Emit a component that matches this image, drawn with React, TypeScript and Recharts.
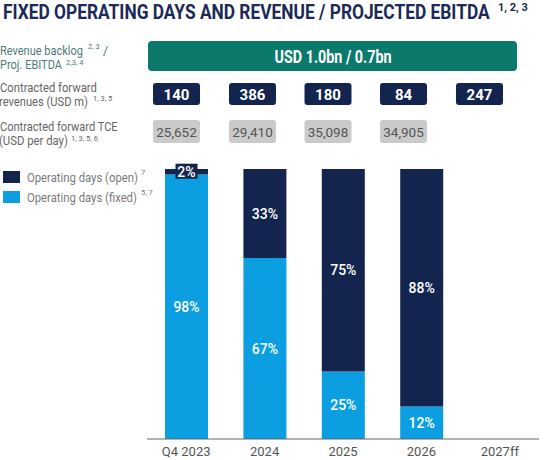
import React from 'react';
import { BarChart, Bar, XAxis, YAxis, LabelList } from 'recharts';

const categories = ['Q4 2023', '2024', '2025', '2026', '2027ff'];
const fixedDays = [98, 67, 25, 12, null];
const openDays = [2, 33, 75, 88, null];
const forwardRevenues = ['140', '386', '180', '84', '247'];
const forwardTce = ['25,652', '29,410', '35,098', '34,905'];

const NAVY = '#13254f';
const BLUE = '#0b9fe1';
const TEAL = '#0c7a6a';
const FONT = 'Roboto, "Noto Sans", sans-serif';

const chartData = categories.map((name, i) => ({
  name,
  fixed: fixedDays[i],
  open: openDays[i],
}));

// header boxes sit slightly left of the bar columns, like in the slide
const boxCenters = [176.5, 252.5, 328, 403.5, 479.5];

let ctx: CanvasRenderingContext2D | null = null;
const measure = (s: string, size: number, weight: number) => {
  if (!ctx) ctx = document.createElement('canvas').getContext('2d');
  if (!ctx) return s.length * size * 0.55;
  ctx.font = `${weight} ${size}px Roboto`;
  return ctx.measureText(s).width;
};

// text squeezed horizontally to a given width (the slide uses a condensed face)
const Sq = ({ x, y, w, size, weight = 400, fill, anchor = 'start', children }: any) => {
  const natural = measure(children, size, weight);
  const s = Math.min(1, w / natural);
  return (
    <text
      transform={`translate(${x},${y}) scale(${s},1)`}
      textAnchor={anchor}
      fill={fill}
      fontSize={size}
      fontWeight={weight}
      fontFamily={FONT}
    >
      {children}
    </text>
  );
};

const Sup = ({ x, y, fill, size = 7.5, children }: any) => (
  <text x={x} y={y} fill={fill} fontSize={size} fontFamily={FONT}>{children}</text>
);

const PercentLabel = (props: any) => {
  const { x, y, width, height, value } = props;
  if (value == null) return null;
  const cx = x + width / 2;
  const cy = y + height / 2;
  if (height < 14) {
    return (
      <g>
        <rect x={cx - 11} y={cy - 8} width={22} height={15} fill={NAVY} />
        <text x={cx} y={cy + 5} textAnchor="middle" fill="#fff" fontSize={14} fontWeight={500} fontFamily={FONT}>
          {value}%
        </text>
      </g>
    );
  }
  return (
    <text x={cx} y={cy + 5} textAnchor="middle" fill="#fff" fontSize={14} fontWeight={500} fontFamily={FONT}>
      {value}%
    </text>
  );
};

const TEAL_TXT = '#4f7c78';
const GREY_TXT = '#666';

const Header = () => (
  <svg width={547} height={210} style={{ position: 'absolute', left: 0, top: 0 }}>
    <Sq x={3} y={19} w={487} size={20} weight={700} fill="#1b2a58">
      FIXED OPERATING DAYS AND REVENUE / PROJECTED EBITDA
    </Sq>
    <text x={498} y={11} fill="#1b2a58" fontSize={11} fontWeight={700} fontFamily={FONT}>1, 2, 3</text>

    <Sq x={0} y={55} w={83} size={12.5} fill={TEAL_TXT}>Revenue backlog</Sq>
    <Sup x={88} y={49} fill={TEAL_TXT}>2, 3</Sup>
    <text x={103} y={55} fill={TEAL_TXT} fontSize={12.5} fontFamily={FONT}>/</text>
    <Sq x={0} y={69} w={62} size={12} fill={TEAL_TXT}>Proj. EBITDA</Sq>
    <Sup x={66} y={65} fill={TEAL_TXT}>2,3, 4</Sup>

    <Sq x={0} y={92} w={97} size={12} fill={GREY_TXT}>Contracted forward</Sq>
    <Sq x={-1} y={106} w={89} size={12} fill={GREY_TXT}>revenues (USD m)</Sq>
    <Sup x={93} y={101} fill={GREY_TXT}>1, 3, 5</Sup>
    <Sq x={0} y={131} w={118} size={12} fill={GREY_TXT}>Contracted forward TCE</Sq>
    <Sq x={-1} y={145} w={69} size={12} fill={GREY_TXT}>(USD per day)</Sq>
    <Sup x={71} y={141} fill={GREY_TXT}>1, 3, 5, 6</Sup>

    <rect x={148} y={41} width={369} height={30} rx={4} fill={TEAL} />
    <Sq x={333} y={63} w={117} size={18} weight={700} fill="#fff" anchor="middle">USD 1.0bn / 0.7bn</Sq>

    {forwardRevenues.map((v, i) => (
      <g key={'r' + i}>
        <rect x={boxCenters[i] - 23.5} y={83} width={47} height={22} rx={3} fill={NAVY} />
        <text x={boxCenters[i]} y={100} textAnchor="middle" fill="#fff" fontSize={15} fontWeight={700} fontFamily={FONT}>{v}</text>
      </g>
    ))}
    {forwardTce.map((v, i) => (
      <g key={'t' + i}>
        <rect x={boxCenters[i] - 23.5} y={120} width={47} height={23} rx={3} fill="#cacaca" />
        <text x={boxCenters[i]} y={137} textAnchor="middle" fill="#555" fontSize={13.5} fontFamily={FONT}>{v}</text>
      </g>
    ))}

    <rect x={3} y={171} width={17} height={12} fill={NAVY} />
    <Sq x={27} y={182} w={111} size={13.5} fill="#7a7a7a">Operating days (open)</Sq>
    <Sup x={141} y={175} fill="#7a7a7a">7</Sup>
    <rect x={3} y={191} width={17} height={12} fill={BLUE} />
    <Sq x={27} y={202} w={110} size={13.5} fill="#7a7a7a">Operating days (fixed)</Sq>
    <Sup x={141} y={195} fill="#7a7a7a">5, 7</Sup>
  </svg>
);

const App: React.FC = () => {
  return (
    <div style={{ position: 'absolute', left: 0, top: 0, width: 547, height: 460, background: '#fff', overflow: 'hidden' }}>
      <div style={{ position: 'absolute', left: 0, top: 0 }}>
        <BarChart width={547} height={460} data={chartData} margin={{ top: 169, right: 8, bottom: 0, left: 147 }}>
          <XAxis
            dataKey="name"
            height={21}
            axisLine={{ stroke: '#666', strokeWidth: 1 }}
            tickLine={false}
            tickMargin={2}
            tick={{ fill: '#555', fontSize: 13, fontFamily: FONT }}
            interval={0}
          />
          <YAxis hide domain={[0, 100]} />
          <Bar dataKey="fixed" stackId="days" fill={BLUE} barSize={43} isAnimationActive={false}>
            <LabelList dataKey="fixed" content={PercentLabel} />
          </Bar>
          <Bar dataKey="open" stackId="days" fill={NAVY} barSize={43} isAnimationActive={false}>
            <LabelList dataKey="open" content={PercentLabel} />
          </Bar>
        </BarChart>
      </div>
      <Header />
    </div>
  );
};

export default App;
